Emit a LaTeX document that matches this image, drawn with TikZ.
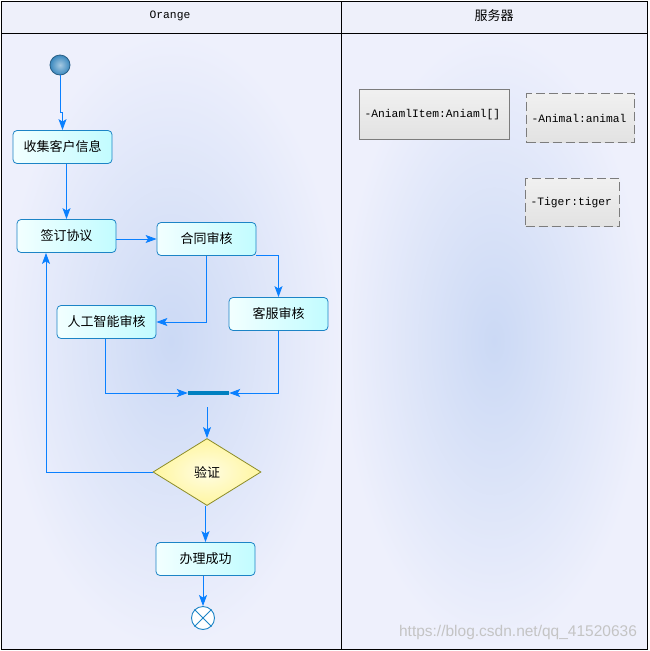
\documentclass[tikz,border=0pt]{standalone}
\usepackage{fontspec}
\setmonofont{Liberation Mono}
\setsansfont{Liberation Sans}
\newfontfamily\cjk{Noto Sans CJK SC}
\usetikzlibrary{shapes.geometric,arrows.meta}
\definecolor{lanebg}{HTML}{EEF0FC}
\definecolor{laneglow}{HTML}{CBD9F5}
\definecolor{headbg}{HTML}{EEF0FA}
\definecolor{flowblue}{HTML}{0A80FF}
\definecolor{actline}{HTML}{1C84C6}
\definecolor{acttop}{HTML}{F2FFFF}
\definecolor{actbot}{HTML}{C2FCFF}
\definecolor{barblue}{HTML}{0080C0}
\definecolor{decline}{HTML}{8C8C28}
\definecolor{decfill}{HTML}{FFF6A0}
\definecolor{attrline}{HTML}{7C7C7C}
\definecolor{attrfill}{HTML}{E2E2E2}
\definecolor{startblue}{HTML}{3A88BE}
\definecolor{markgray}{HTML}{C4C4C4}
\tikzset{
	act/.style={draw=actline, line width=0.8pt, rounded corners=4pt, left color=acttop, right color=actbot, minimum width=99pt, minimum height=33pt, font=\cjk\fontsize{13}{15}\selectfont},
	flowarrow/.style={draw=flowblue, line width=0.9pt, -{Stealth[length=11pt,width=8pt,inset=2.5pt,fill=flowblue]}},
	attr/.style={draw=attrline, line width=1.2pt, top color=white!50!attrfill, bottom color=attrfill, anchor=north west, inner xsep=5pt, inner ysep=0pt, align=left, font=\ttfamily\fontsize{11.3}{13}\selectfont},
	attrdash/.style={attr, dash pattern=on 9pt off 4pt},
}
\begin{document}
\begin{tikzpicture}[x=1pt,y=-1pt]
			\useasboundingbox (0,0) rectangle (649,651);
			\fill[headbg] (1,1) rectangle (647,33);
			\shade[inner color=laneglow, outer color=lanebg] (1,33) rectangle (341,649);
			\shade[inner color=laneglow, outer color=lanebg] (341,33) rectangle (647,649);
			\draw[line width=1pt] (1,1) rectangle (647,649);
			\draw[line width=1pt] (1,33) -- (647,33);
			\draw[line width=1pt] (341,1) -- (341,649);
			\node[font=\ttfamily\fontsize{11.3}{13}\selectfont] (lanea) at (170,16) {Orange};
			\node[font=\cjk\fontsize{13}{15}\selectfont] (laneb) at (494,16) {服务器};
			\node[circle, minimum size=20pt, inner sep=0pt, draw=startblue!70!black, line width=0.8pt, inner color=startblue!45!white, outer color=startblue] (start) at (60,65) {};
			\node[act] (collect) at (62.5,147) {收集客户信息};
			\node[act] (sign) at (66.5,236) {签订协议};
			\node[act] (review) at (206.5,239) {合同审核};
			\node[act] (ai) at (106.5,322) {人工智能审核};
			\node[act] (service) at (278.5,314) {客服审核};
			\node[fill=barblue, minimum width=41pt, minimum height=4pt, inner sep=0pt] (join) at (208.5,393) {};
			\node[diamond, draw=decline, line width=0.8pt, inner color=white!70!decfill, outer color=decfill, minimum width=108pt, minimum height=67pt, inner sep=0pt, font=\cjk\fontsize{13}{15}\selectfont] (verify) at (207,472) {验证};
			\node[act] (done) at (205.5,559) {办理成功};
			\node[circle, draw=actline, line width=0.9pt, fill=white, minimum size=23pt, inner sep=0pt] (finish) at (203,618) {};
			\draw[actline, line width=0.9pt] (finish.45) -- (finish.225) (finish.135) -- (finish.315);
			\draw[flowarrow] (start.south) -- ++(0,37) -| (collect.north);
			\draw[flowarrow] (collect.south -| sign.north) -- (sign.north);
			\draw[flowarrow] (sign.east |- review.west) -- (review.west);
			\draw[flowarrow] (review.south east) -| (service.north);
			\draw[flowarrow] (review.south) |- (ai.east);
			\draw[flowarrow] ([xshift=-1.5pt]ai.south) |- (join.west);
			\draw[flowarrow] (service.south) |- (join.east);
			\draw[flowarrow, shorten <=12pt] (join.south -| verify.north) -- (verify.north);
			\draw[flowarrow] (verify.west) -| ([xshift=-20.5pt]sign.south);
			\draw[flowarrow] (verify.south -| done.north) -- (done.north);
			\draw[flowarrow] (done.south -| finish.north) -- (finish.north);
			\node[attr, text width=140pt, minimum height=50pt] (items) at (359,89) {-AniamlItem:Aniaml[]};
			\node[attrdash, text width=98pt, minimum height=49pt] (animal) at (526,93) {-Animal:animal};
			\node[attrdash, text width=84pt, minimum height=48pt] (tiger) at (525,178) {-Tiger:tiger};
			\node[text=markgray, font=\sffamily\fontsize{15.5}{17}\selectfont] (mark) at (518,632) {https://blog.csdn.net/qq\_41520636};
		\end{tikzpicture}
\end{document}
